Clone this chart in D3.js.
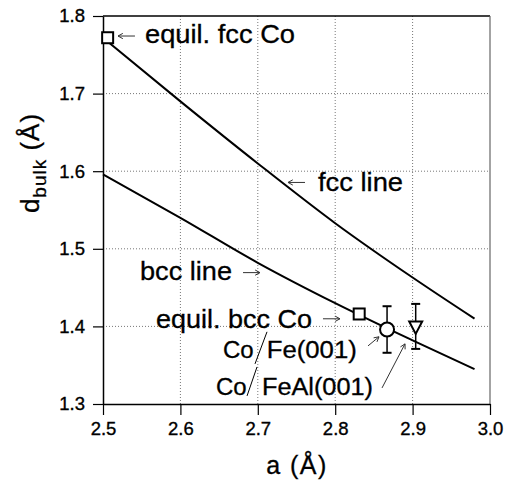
<!DOCTYPE html>
<html>
<head>
<meta charset="utf-8">
<script src="https://cdn.jsdelivr.net/npm/d3@7"></script>
<style>
  body { margin: 0; background: #fff; }
  svg text { font-family: "Liberation Sans", Arial, Helvetica, sans-serif; fill: #000; }
</style>
</head>
<body>
<div id="chart"></div>
<script>
const width  = 510
const height = 485

// lattice constant a (Å) and bulk spacing d (Å)
const aValues   = [2.5, 2.6, 2.7, 2.8, 2.9, 2.98]
const fccValues = [1.772, 1.690, 1.610, 1.533, 1.463, 1.410]
const bccValues = [1.596, 1.540, 1.482, 1.430, 1.382, 1.345]

const equilA = [2.506, 2.831]
const equilD = [1.772, 1.416]

const expNames = ['Co/Fe(001)', 'Co/FeAl(001)']
const expA     = [2.867, 2.904]
const expD     = [1.396, 1.400]
const expErr   = [0.030, 0.029]

const xTicks = [2.5, 2.6, 2.7, 2.8, 2.9, 3.0]
const yTicks = [1.3, 1.4, 1.5, 1.6, 1.7, 1.8]

var x = d3.scaleLinear().domain([2.5, 3.0]).range([103, 490])
var y = d3.scaleLinear().domain([1.3, 1.8]).range([404, 16])

var svg = d3.select('#chart').append('svg').attr('width', width).attr('height', height)

// grid
svg.append('g').selectAll('line').data(xTicks.slice(1, -1)).enter().append('line')
  .attr('x1', d => x(d)).attr('x2', d => x(d)).attr('y1', y(1.8)).attr('y2', y(1.3))
  .attr('stroke', '#777').attr('stroke-width', 1).attr('stroke-dasharray', '1,2')
svg.append('g').selectAll('line').data(yTicks.slice(1, -1)).enter().append('line')
  .attr('y1', d => y(d)).attr('y2', d => y(d)).attr('x1', x(2.5)).attr('x2', x(3.0))
  .attr('stroke', '#777').attr('stroke-width', 1).attr('stroke-dasharray', '1,2')

// frame
svg.append('line').attr('x1', x(2.5)).attr('x2', x(3.0)).attr('y1', y(1.8)).attr('y2', y(1.8))
  .attr('stroke', '#000').attr('stroke-width', 1.5)
svg.append('line').attr('x1', x(3.0)).attr('x2', x(3.0)).attr('y1', y(1.8)).attr('y2', y(1.3))
  .attr('stroke', '#666').attr('stroke-width', 1.2)

// axes
var xAxis = svg.append('g').attr('transform', 'translate(0,' + y(1.3) + ')')
  .call(d3.axisBottom(x).tickValues(xTicks).tickSize(11).tickPadding(7).tickSizeOuter(0).tickFormat(d3.format('.1f')))
var yAxis = svg.append('g').attr('transform', 'translate(' + x(2.5) + ',0)')
  .call(d3.axisLeft(y).tickValues(yTicks).tickSize(10).tickPadding(8).tickSizeOuter(0).tickFormat(d3.format('.1f')))
;[xAxis, yAxis].forEach(function(ax) {
  ax.select('.domain').attr('stroke', '#000').attr('stroke-width', 1.5)
  ax.selectAll('.tick line').attr('stroke', '#000').attr('stroke-width', 1.2)
  ax.selectAll('.tick text').style('font-family', '"Liberation Sans", Arial, sans-serif').style('font-size', '18.5px')
    .attr('fill', '#000').attr('stroke', '#000').attr('stroke-width', 0.35)
})

// axis titles
svg.append('text').attr('x', 297).attr('y', 474).attr('text-anchor', 'middle')
  .attr('stroke', '#000').attr('stroke-width', 0.3)
  .style('font-size', '25px').style('letter-spacing', '1.5px').text('a (Å)')
var yTitle = svg.append('text').attr('transform', 'translate(39,163) rotate(-90)')
  .attr('text-anchor', 'middle').attr('stroke', '#000').attr('stroke-width', 0.3)
  .style('font-size', '26px').style('letter-spacing', '1px')
yTitle.append('tspan').text('d')
yTitle.append('tspan').attr('dy', 7).style('font-size', '19px').text('bulk')
yTitle.append('tspan').attr('dy', -7).text(' (Å)')

// curves
var line = d3.line().curve(d3.curveMonotoneX)
svg.append('path').datum(aValues.map((a, i) => [x(a), y(fccValues[i])]))
  .attr('d', line).attr('fill', 'none').attr('stroke', '#000').attr('stroke-width', 2)
svg.append('path').datum(aValues.map((a, i) => [x(a), y(bccValues[i])]))
  .attr('d', line).attr('fill', 'none').attr('stroke', '#000').attr('stroke-width', 2)

// equilibrium squares
svg.selectAll('.equil').data(equilA).enter().append('rect')
  .attr('x', (d, i) => x(d) - 5.5).attr('y', (d, i) => y(equilD[i]) - 5.5)
  .attr('width', 11).attr('height', 11)
  .attr('fill', '#fff').attr('stroke', '#000').attr('stroke-width', 2)

// error bars
expA.forEach(function(a, i) {
  var g = svg.append('g').attr('stroke', '#000').attr('stroke-width', 2)
  var top = y(expD[i] + expErr[i]), bot = y(expD[i] - expErr[i])
  g.append('line').attr('x1', x(a)).attr('x2', x(a)).attr('y1', top).attr('y2', bot).attr('stroke-width', 1.5)
  g.append('line').attr('x1', x(a) - 4.5).attr('x2', x(a) + 4.5).attr('y1', top).attr('y2', top)
  g.append('line').attr('x1', x(a) - 4.5).attr('x2', x(a) + 4.5).attr('y1', bot).attr('y2', bot)
})
svg.append('circle').attr('cx', x(expA[0])).attr('cy', y(expD[0])).attr('r', 7)
  .attr('fill', '#fff').attr('stroke', '#000').attr('stroke-width', 2)
svg.append('path').attr('transform', 'translate(' + x(expA[1]) + ',' + y(expD[1]) + ')')
  .attr('d', 'M-6.5,-5 L6.5,-5 L0,7.5 Z')
  .attr('fill', '#fff').attr('stroke', '#000').attr('stroke-width', 2)

// labels: text, a, d, width (0 = natural), font size
const labelTexts  = ['equil. fcc Co', 'fcc line', 'bcc line', 'equil. bcc Co', 'Co', 'Fe(001)', 'Co', 'FeAl(001)']
const labelA      = [2.5543, 2.7778, 2.5478, 2.5685, 2.6550, 2.7116, 2.6460, 2.7054]
const labelD      = [1.7651, 1.5739, 1.4602, 1.3982, 1.3594, 1.3594, 1.3116, 1.3116]
const labelWidths = [150, 85, 92, 156, 0, 90, 0, 111]
const labelSizes  = [25, 26, 26, 25, 24, 23, 24, 23]
labelTexts.forEach(function(t, i) {
  var txt = svg.append('text').attr('x', x(labelA[i])).attr('y', y(labelD[i]))
    .attr('stroke', '#000').attr('stroke-width', 0.3)
    .style('font-size', labelSizes[i] + 'px').text(t)
  if (labelWidths[i]) txt.attr('textLength', labelWidths[i]).attr('lengthAdjust', 'spacingAndGlyphs')
})

// thin slashes between Co and substrate
const slashA0 = [2.6964, 2.6861], slashD0 = [1.3517, 1.3104]
const slashA1 = [2.7119, 2.6990], slashD1 = [1.3930, 1.3478]
slashA0.forEach(function(a, i) {
  svg.append('line').attr('x1', x(a)).attr('y1', y(slashD0[i])).attr('x2', x(slashA1[i])).attr('y2', y(slashD1[i]))
    .attr('stroke', '#000').attr('stroke-width', 1)
})

// arrows: from (a0,d0) to (a1,d1)
const arrowA0 = [2.5413, 2.7610, 2.6809, 2.7842, 2.8424, 2.8605]
const arrowD0 = [1.7742, 1.5855, 1.4693, 1.4098, 1.3749, 1.3207]
const arrowA1 = [2.5194, 2.7390, 2.7028, 2.8062, 2.8566, 2.8902]
const arrowD1 = [1.7742, 1.5855, 1.4693, 1.4098, 1.3866, 1.3775]
arrowA0.forEach(function(a, i) {
  var x0 = x(a), y0 = y(arrowD0[i]), x1 = x(arrowA1[i]), y1 = y(arrowD1[i])
  var ang = Math.atan2(y1 - y0, x1 - x0), h = 5.5, s = 0.5
  var p = 'M' + x0 + ',' + y0 + 'L' + x1 + ',' + y1 +
    'M' + (x1 - h * Math.cos(ang - s)) + ',' + (y1 - h * Math.sin(ang - s)) + 'L' + x1 + ',' + y1 +
    'L' + (x1 - h * Math.cos(ang + s)) + ',' + (y1 - h * Math.sin(ang + s))
  svg.append('path').attr('d', p).attr('fill', 'none').attr('stroke', '#333').attr('stroke-width', 1)
})
</script>
</body>
</html>
